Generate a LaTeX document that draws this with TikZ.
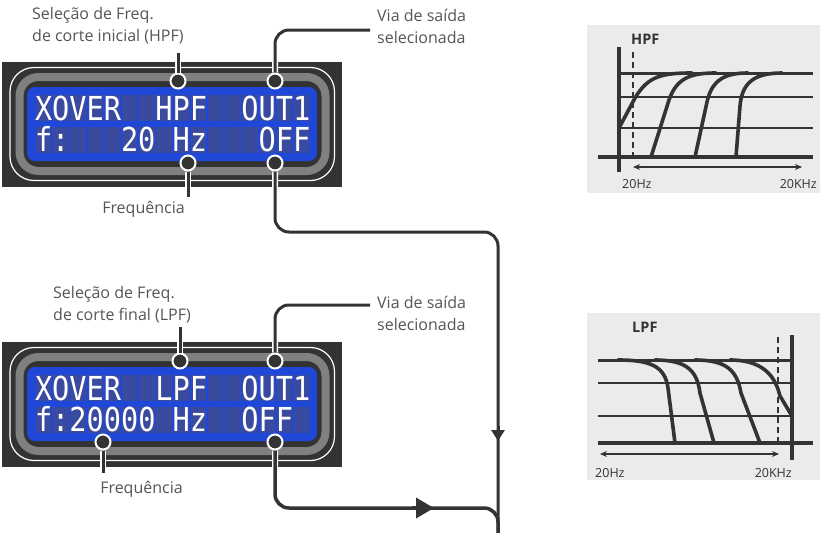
\documentclass[tikz,border=0pt]{standalone}
\usepackage{fontspec}
\setmainfont{Open Sans}
\newfontfamily\lcdfont{DejaVu Sans Mono}
\usetikzlibrary{arrows.meta}
\definecolor{lcddark}{HTML}{333333}
\definecolor{lcdgray}{HTML}{808080}
\definecolor{lcdblue}{HTML}{1F47D8}
\definecolor{lcdcell}{HTML}{3A4A9E}
\definecolor{lblc}{HTML}{555555}
\definecolor{graphbg}{HTML}{EBEBEB}
\definecolor{ink}{HTML}{333333}
\newcommand\lcdw[1]{\scalebox{0.866}[1]{#1}}
\newcommand\lcdframe{%
  \fill[lcddark] (2,62) rectangle (342,187);
  \draw[white, line width=1.2, rounded corners=24] (10,67.5) rectangle (334.5,180.5);
  \draw[lcdgray, line width=8, rounded corners=19] (19.5,77) rectangle (325.5,171);
  \fill[lcdblue, rounded corners=8] (27,87) rectangle (317,161);
  \foreach \c in {0,...,15}{
    \fill[lcdcell] ({36+\c*17.2},95) rectangle ++(15.3,26);
    \fill[lcdcell] ({36+\c*17.2},127) rectangle ++(15.3,25.5);
  }%
}
\begin{document}
\begin{tikzpicture}[x=1pt,y=-1pt,
  lbl/.style={font=\fontsize{16}{22}\selectfont, text=lblc, inner sep=0, align=left},
  lcdtxt/.style={font=\lcdfont\fontsize{33}{33}\selectfont, text=white, inner sep=0, anchor=base},
  dot/.style={circle, minimum size=15pt, inner sep=0, fill=ink, draw=white, line width=2},
  halo/.style={draw=white, line width=6, rounded corners=14},
  conn/.style={draw=ink, line width=3, rounded corners=14},
  gline/.style={draw=ink, line width=1.8},
  curve/.style={draw=ink, line width=3.6, line cap=round},
  axis/.style={draw=ink, line width=3.4},
  glbl/.style={font=\fontsize{12.5}{12.5}\selectfont, text=ink, inner sep=0},
  gtitle/.style={font=\bfseries\fontsize{14.5}{14.5}\selectfont, text=ink, inner sep=0},
  tipsmall/.style={draw=ink, line width=3, -{Triangle[length=11pt,width=13pt]}},
  tipbig/.style={draw=ink, line width=3.5, -{Triangle[length=18pt,width=20pt]}},
  garrow/.style={draw=ink, line width=1.3, {Stealth[length=7pt,width=6pt]}-{Stealth[length=7pt,width=6pt]}},
  gdash/.style={draw=ink, line width=1.5, dash pattern=on 6pt off 4pt},
]
\useasboundingbox (0,0) rectangle (820,533);

% ---------- top LCD ----------
\lcdframe
\node[lcdtxt] (tXover) at (78.05,120) {\lcdw{XOVER}};
\node[lcdtxt] (tHpf) at (181.25,120) {\lcdw{HPF}};
\node[lcdtxt] (tOut) at (275.85,120) {\lcdw{OUT1}};
\node[lcdtxt] (tF) at (52.25,151.5) {\lcdw{f:}};
\node[lcdtxt] (t20) at (138.25,151.5) {\lcdw{20}};
\node[lcdtxt] (tHz) at (189.85,151.5) {\lcdw{Hz}};
\node[lcdtxt] (tOff) at (284.45,151.5) {\lcdw{OFF}};

% ---------- bottom LCD ----------
\begin{scope}[yshift=-280pt]
\lcdframe
\node[lcdtxt] (bXover) at (78.05,120) {\lcdw{XOVER}};
\node[lcdtxt] (bLpf) at (181.25,120) {\lcdw{LPF}};
\node[lcdtxt] (bOut) at (275.85,120) {\lcdw{OUT1}};
\node[lcdtxt] (bF) at (95.25,151.5) {\lcdw{f:20000}};
\node[lcdtxt] (bHz) at (189.85,151.5) {\lcdw{Hz}};
\node[lcdtxt] (bOff) at (267.25,151.5) {\lcdw{OFF}};
\end{scope}

% ---------- labels ----------
\node[lbl, anchor=north west] (selT) at (32,7.5) {Seleção de Freq.\\de corte inicial (HPF)};
\node[lbl, anchor=north west] (viaT) at (377,9) {Via de saída\\selecionada};
\node[lbl, anchor=base] (freqT) at (143.5,213) {Frequência};
\node[lbl, anchor=north west] (selB) at (53,286.5) {Seleção de Freq.\\de corte final (LPF)};
\node[lbl, anchor=north west] (viaB) at (377,296) {Via de saída\\selecionada};
\node[lbl, anchor=base] (freqB) at (141.5,493) {Frequência};

% ---------- dots ----------
\node[dot] (hpfDot) at (178,81) {};
\node[dot] (outT) at (275,81) {};
\node[dot] (hzT) at (188,163) {};
\node[dot] (offT) at (275,163) {};
\node[dot] (lpfDot) at (180,361) {};
\node[dot] (outB) at (275,361) {};
\node[dot] (hzB) at (103,442) {};
\node[dot] (offB) at (275,442) {};

\coordinate (selTend) at (178,53);
\coordinate (viaTend) at (370,30);
\coordinate (hzTend) at (188,197);
\coordinate (selBend) at (180,327);
\coordinate (viaBend) at (370,305);
\coordinate (hzBend) at (103,473);
\coordinate (mainEnd) at (498,533);
\coordinate (aTb) at (498,426);
\coordinate (aTt) at (498,441);
\coordinate (aBb) at (412,508);
\coordinate (aBt) at (434,508);

\def\pA{(hpfDot.north) -- (selTend)}
\def\pB{(outT.north) -- (275,30) -- (viaTend)}
\def\pC{(hzT.south) -- (hzTend)}
\def\pD{(offT.south) -- (275,232) -- (498,232) -- (mainEnd)}
\def\pE{(lpfDot.north) -- (selBend)}
\def\pF{(outB.north) -- (275,305) -- (viaBend)}
\def\pG{(hzB.south) -- (hzBend)}
\def\pH{(offB.south) -- (275,508) -- (498,508) -- (mainEnd)}

\foreach \p in {\pA,\pB,\pC,\pD,\pE,\pF,\pG,\pH}{\draw[halo] \p;}
\foreach \p in {\pA,\pB,\pC,\pD,\pE,\pF,\pG}{\draw[conn] \p;}
\draw[conn, line width=3.5] \pH;
\draw[tipsmall] (aTb) -- (aTt);
\draw[tipbig] (aBb) -- (aBt);

% ---------- HPF graph ----------
\fill[graphbg] (587,25) rectangle (820,193);
\draw[gline] (619,97) -- (813,97);
\draw[gline] (619,128) -- (813,128);
\draw[ink, line width=3] (619,73) -- (813,73);
\draw[axis] (619,47) -- (619,172);
\draw[axis] (598,157) -- (813,157);
\draw[gdash] (633,52) -- (633,160);
\draw[garrow] (633,167) -- (802,167);
\draw[curve] (619,128) -- (635,98) .. controls (648,76) and (662,73) .. (692,73);
\draw[curve] (651,157) -- (669,100) .. controls (677,77) and (692,73) .. (716,73);
\draw[curve] (695,157) -- (707,102) .. controls (712,79) and (726,73) .. (748,73);
\draw[curve] (736,157) -- (740,106) .. controls (742,82) and (755,73) .. (782,73);
\node[gtitle, anchor=base west] (hpfTitle) at (631,44) {HPF};
\node[glbl, anchor=base west] (hpfLo) at (622,188) {20Hz};
\node[glbl, anchor=base east] (hpfHi) at (817,188) {20KHz};

% ---------- LPF graph ----------
\fill[graphbg] (587,313) rectangle (820,480);
\draw[gline] (598,383) -- (792,383);
\draw[gline] (598,416) -- (792,416);
\draw[ink, line width=3] (598,360) -- (792,360);
\draw[axis] (792,335) -- (792,460);
\draw[axis] (598,443) -- (813,443);
\draw[gdash] (778,337) -- (778,443);
\draw[garrow] (600,454) -- (779,454);
\draw[curve] (618,360) .. controls (650,360) and (665,366) .. (668,388) -- (675,443);
\draw[curve] (655,360) .. controls (686,360) and (697,370) .. (700,393) -- (714,443);
\draw[curve] (695,360) .. controls (726,360) and (737,370) .. (741,393) -- (760,443);
\draw[curve] (730,360) .. controls (762,360) and (775,375) .. (780,396) -- (792,416);
\node[gtitle, anchor=base west] (lpfTitle) at (632,332) {LPF};
\node[glbl, anchor=base west] (lpfLo) at (595,477) {20Hz};
\node[glbl, anchor=base east] (lpfHi) at (792,477) {20KHz};
\end{tikzpicture}
\end{document}
